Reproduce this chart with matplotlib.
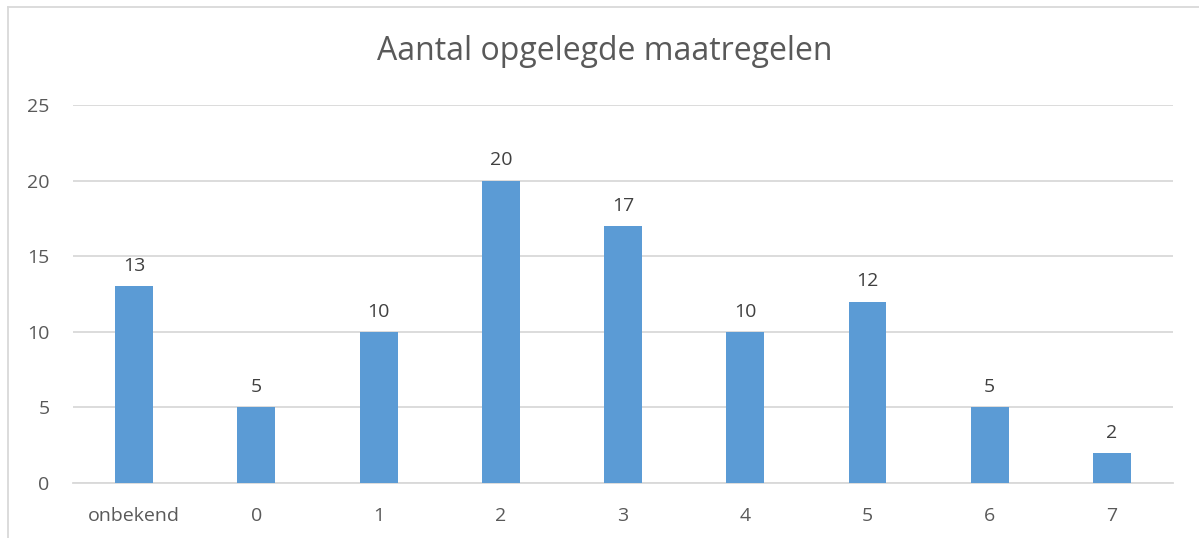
import matplotlib.pyplot as plt
from matplotlib.lines import Line2D

categories = ["onbekend", "0", "1", "2", "3", "4", "5", "6", "7"]
counts = [13, 5, 10, 20, 17, 10, 12, 5, 2]

plt.rcParams['font.family'] = ['Open Sans', 'DejaVu Sans']
text_color = '#595959'
grid_color = '#D9D9D9'
bar_color = '#5B9BD5'

fig = plt.figure(figsize=(11.99, 5.38), dpi=100)
ax = fig.add_axes([73 / 1199, 1 - 483 / 538, 1100 / 1199, 378 / 538])

x = range(len(categories))
bars = ax.bar(x, counts, width=0.31, color=bar_color, zorder=3)
for b, v in zip(bars, counts):
    ax.annotate(str(v), (b.get_x() + b.get_width() / 2, v), xytext=(0, 8),
                textcoords='offset points', ha='center', va='bottom',
                fontsize=14, color='#404040')

ax.set_xlim(-0.5, len(categories) - 0.5)
ax.set_ylim(0, 25)
ax.set_yticks(range(0, 26, 5))
ax.set_xticks(list(x))
ax.set_xticklabels(categories)
ax.yaxis.grid(True, color=grid_color, linewidth=1.3, zorder=0)
ax.tick_params(axis='both', length=0, labelsize=14, labelcolor=text_color)
ax.tick_params(axis='y', pad=17)
ax.tick_params(axis='x', pad=17)
for s in ['top', 'right', 'left']:
    ax.spines[s].set_visible(False)
ax.spines['bottom'].set_color(grid_color)
ax.spines['bottom'].set_linewidth(1.3)

fig.text(605 / 1199, 1 - 51 / 538, "Aantal opgelegde maatregelen", ha='center',
         va='center', fontsize=23, color=text_color)

# outer chart border (left and top visible)
fig.add_artist(Line2D([8 / 1199, 8 / 1199], [0, 1 - 7 / 538], transform=fig.transFigure,
                      color=grid_color, linewidth=1.3))
fig.add_artist(Line2D([8 / 1199, 1], [1 - 7 / 538, 1 - 7 / 538], transform=fig.transFigure,
                      color=grid_color, linewidth=1.3))

fig.savefig("out.png", dpi=100)
